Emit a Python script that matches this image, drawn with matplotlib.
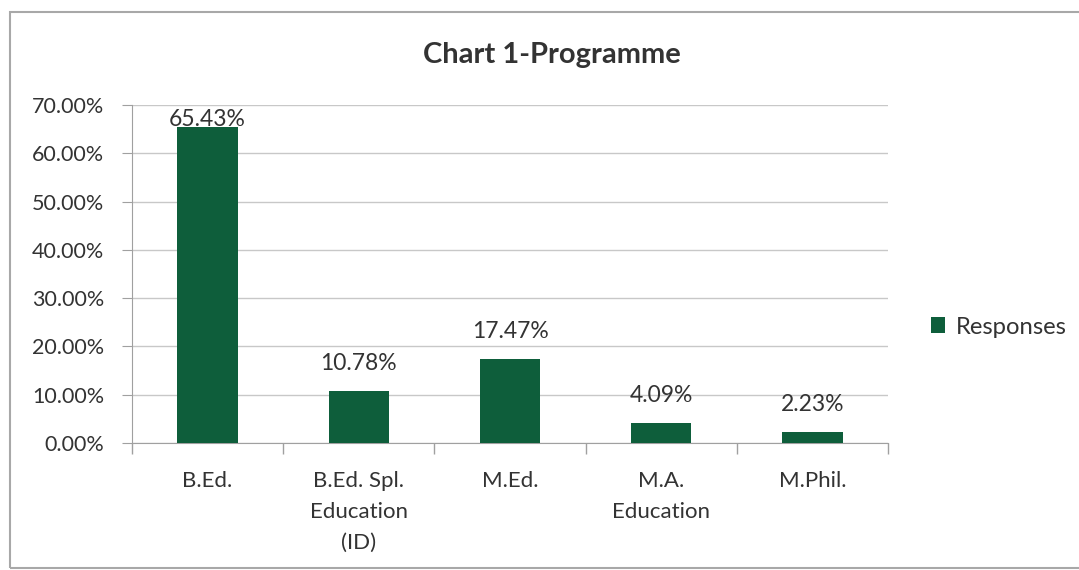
import matplotlib
matplotlib.use("Agg")
import matplotlib.pyplot as plt
from matplotlib.patches import Rectangle
from matplotlib.ticker import FuncFormatter, FixedLocator

categories = ["B.Ed.", "B.Ed. Spl.\nEducation\n(ID)", "M.Ed.", "M.A.\nEducation", "M.Phil."]
values = [65.43, 10.78, 17.47, 4.09, 2.23]
series_name = "Responses"
title = "Chart 1-Programme"
yticks = [0, 10, 20, 30, 40, 50, 60, 70]

plt.rcParams['font.family'] = ['Lato', 'DejaVu Sans']
W, H = 1079, 570
fig = plt.figure(figsize=(W / 100, H / 100), dpi=100)
fig.patch.set_facecolor("white")

# chart frame
fig.patches.append(Rectangle((10 / W, 1 - 568 / H), 1.2, (568 - 12) / H,
                             transform=fig.transFigure, fill=False,
                             edgecolor="#a8a8a8", lw=1.5, zorder=0))

ax = fig.add_axes([132 / W, 1 - 443 / H, (888 - 132) / W, (443 - 105) / H])
ax.set_facecolor("none")
green = "#0e5e3b"
x = list(range(len(categories)))
bars = ax.bar(x, values, width=0.4, color=green, label=series_name, zorder=3)

ax.set_xlim(-0.5, len(categories) - 0.5)
ax.set_ylim(0, 70)
ax.yaxis.set_major_locator(FixedLocator(yticks))
ax.yaxis.set_major_formatter(FuncFormatter(lambda v, p: f"{v:.2f}%"))
ax.grid(axis="y", color="#c8c8c8", lw=1, zorder=0)
ax.set_xticks(x)
ax.set_xticklabels(categories, fontsize=16, color="#333333", linespacing=1.7)
ax.set_xticks([i - 0.5 for i in range(len(categories) + 1)], minor=True)
ax.tick_params(axis="x", which="major", length=0, pad=20)
ax.tick_params(axis="x", which="minor", length=8, color="#a0a0a0", width=1)
ax.tick_params(axis="y", labelsize=15.5, labelcolor="#333333", length=7, color="#a0a0a0", pad=13)
for s in ["top", "right"]:
    ax.spines[s].set_visible(False)
ax.spines["left"].set_color("#a0a0a0")
ax.spines["bottom"].set_color("#a0a0a0")

for xi, v in zip(x, values):
    if v > 64:
        ax.annotate(f"{v:.2f}%", (xi, 70), xytext=(0, -4), textcoords="offset pixels",
                    ha="center", va="top", fontsize=16.5, color="#333333")
    else:
        ax.annotate(f"{v:.2f}%", (xi, v), xytext=(0, 17), textcoords="offset pixels",
                    ha="center", va="bottom", fontsize=16.5, color="#333333")

fig.text(552 / W, 1 - 55 / H, title, ha="center", va="center",
         fontsize=21, fontweight="bold", color="#333333")

leg = fig.legend(handles=[bars], labels=[series_name], loc="center left",
                 bbox_to_anchor=(931 / W, 1 - 327 / H), frameon=False,
                 fontsize=17.2, handlelength=0.6, handleheight=0.6,
                 handletextpad=0.45, borderaxespad=0, borderpad=0)
for t in leg.get_texts():
    t.set_color("#333333")

fig.savefig("out.png", dpi=100, facecolor="white")
